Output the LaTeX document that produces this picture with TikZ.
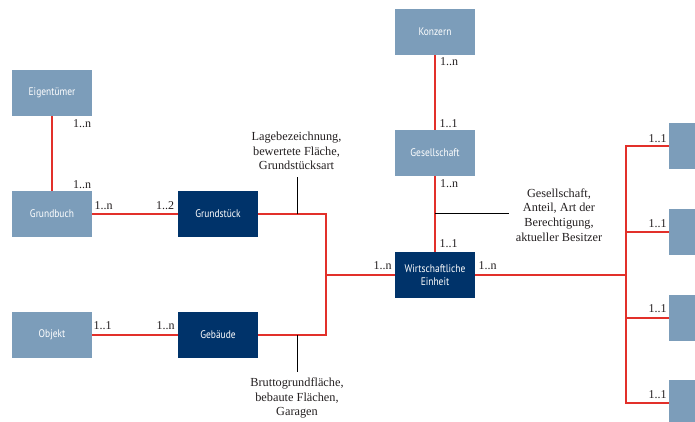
\documentclass[tikz,border=0pt]{standalone}
\usepackage{fontspec}
\usetikzlibrary{backgrounds}
\setmainfont{Liberation Serif}
\newfontfamily\boxfont[FakeStretch=0.86]{PT Sans}
\definecolor{lightbox}{RGB}{124,157,186}
\definecolor{darkbox}{RGB}{0,51,106}
\definecolor{relred}{RGB}{226,48,42}
\definecolor{txtgray}{RGB}{35,31,32}
\begin{document}
\begin{tikzpicture}[x=1pt,y=-1pt,
  lbox/.style={fill=lightbox, text=white, minimum width=80pt, minimum height=46pt, inner sep=0pt, align=center, font=\boxfont\fontsize{11}{13}\selectfont},
  dbox/.style={lbox, fill=darkbox},
  sbox/.style={fill=lightbox, minimum width=26pt, minimum height=46pt, inner sep=0pt},
  rel/.style={draw=relred, line width=1.4pt},
  note/.style={draw=black, line width=0.8pt},
  card/.style={inner sep=0pt, text=txtgray, font=\fontsize{12}{13}\selectfont},
  txt/.style={inner sep=0pt, align=center, text=txtgray, font=\fontsize{12.3}{14.7}\selectfont}]
\useasboundingbox (0,0) rectangle (695,422);

% boxes
\node[lbox] (eig) at (52,93) {Eigentümer};
\node[lbox] (gb) at (52,214) {Grundbuch};
\node[dbox] (gs) at (218,214) {Grundstück};
\node[lbox] (obj) at (52,335) {Objekt};
\node[dbox] (geb) at (218,335) {Gebäude};
\node[lbox] (konz) at (435,32) {Konzern};
\node[lbox] (ges) at (435,153) {Gesellschaft};
\node[dbox] (we) at (435,275) {Wirtschaftliche\\Einheit};
\node[sbox] (r1) at (682,146) {};
\node[sbox] (r2) at (682,232) {};
\node[sbox] (r3) at (682,318) {};
\node[sbox] (r4) at (682,403) {};

% junctions
\coordinate (j1) at (326,275);
\coordinate (j2) at (626,275);

% attribute texts
\node[txt] (lage) at (296.5,151) {Lagebezeichnung,\\bewertete Fläche,\\Grundstücksart};
\node[txt] (brutto) at (297,398) {Bruttogrundfläche,\\bebaute Flächen,\\Garagen};
\node[txt] (gesatt) at (559,215) {Gesellschaft,\\Anteil, Art der\\Berechtigung,\\aktueller Besitzer};

\coordinate (a1) at (297,214);
\coordinate (a1t) at (297,177);
\coordinate (a2) at (297,335);
\coordinate (a2b) at (297,372);
\coordinate (a3) at (435,213);
\coordinate (a3e) at (509,213);

% cardinalities
\node[card] at (82,124) {1..n};
\node[card] at (82,185) {1..n};
\node[card] at (103.5,205.5) {1..n};
\node[card] at (165,205.5) {1..2};
\node[card] at (102.5,326) {1..1};
\node[card] at (165.5,326) {1..n};
\node[card] at (382.5,266) {1..n};
\node[card] at (487.5,266) {1..n};
\node[card] at (449,62) {1..n};
\node[card] at (448.5,124) {1..1};
\node[card] at (449,184) {1..n};
\node[card] at (448.5,244) {1..1};
\node[card] at (657.5,138.5) {1..1};
\node[card] at (657.5,223.5) {1..1};
\node[card] at (657.5,309) {1..1};
\node[card] at (657.5,395) {1..1};

\begin{pgfonlayer}{background}
\draw[rel] (eig.south) -- (gb.north);
\draw[rel] (gb.east) -- (gs.west);
\draw[rel] (obj.east) -- (geb.west);
\draw[rel] (gs.east) -| (j1);
\draw[rel] (geb.east) -| (j1);
\draw[rel] (j1) -- (we.west);
\draw[rel] (konz.south) -- (ges.north);
\draw[rel] (ges.south) -- (we.north);
\draw[rel] (we.east) -- (j2);
\draw[rel] (r1.west) -| (j2) |- (r4.west);
\draw[rel] (r2.west) -- (r2.west -| j2);
\draw[rel] (r3.west) -- (r3.west -| j2);
\draw[note] (a1) -- (a1t);
\draw[note] (a2) -- (a2b);
\draw[note] (a3) -- (a3e);
\end{pgfonlayer}
\end{tikzpicture}
\end{document}
